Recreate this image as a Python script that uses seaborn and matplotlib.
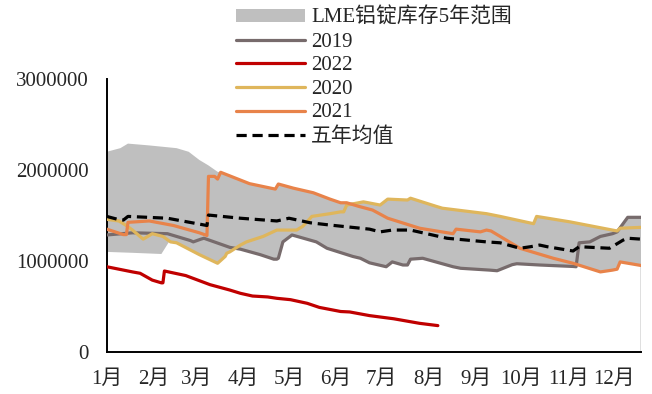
import numpy as np
import pandas as pd
import matplotlib
matplotlib.use("Agg")
import matplotlib.pyplot as plt
import seaborn as sns
from matplotlib.patches import Patch
from matplotlib.lines import Line2D

# ---------------- data (day of year, tonnes) ----------------
month_labels = ["1月", "2月", "3月", "4月", "5月", "6月", "7月", "8月", "9月", "10月", "11月", "12月"]
month_start_days = [0, 31, 59, 90, 120, 151, 181, 212, 243, 273, 304, 334]
y_ticks = [0, 1000000, 2000000, 3000000]

days_2019 = [0, 17, 40, 55, 57, 62, 64, 81, 88, 101, 110, 112, 113, 116, 122, 138, 145,
             162, 167, 173, 184, 188, 195, 198, 200, 208, 228, 233, 252, 257, 267, 270,
             285, 307, 309, 311, 318, 325, 333, 336, 343, 352]
vals_2019 = [1286000, 1310000, 1300000, 1225000, 1210000, 1240000, 1250000, 1150000, 1130000,
             1070000, 1020000, 1020000, 1030000, 1210000, 1286000, 1210000, 1140000,
             1050000, 1030000, 980000, 937000, 990000, 956000, 956000, 1020000, 1030000,
             937000, 920000, 900000, 893000, 960000, 970000,
             956000, 940000, 937000, 1200000, 1210000, 1270000, 1300000, 1320000, 1480000, 1480000]

days_2022 = [0, 17, 22, 30, 36, 37, 38, 52, 68, 81, 88, 96, 106, 112, 121, 132, 140, 154,
             160, 173, 189, 206, 218]
vals_2022 = [937000, 880000, 865000, 790000, 760000, 760000, 890000, 840000, 740000, 681000,
             645000, 615000, 605000, 590000, 575000, 535000, 490000, 445000,
             440000, 400000, 365000, 315000, 290000]

days_2020 = [0, 8, 12, 17, 24, 30, 37, 42, 46, 61, 73, 78, 79, 81, 88, 92, 103, 112, 125,
             127, 129, 134, 135, 147, 154, 156, 158, 169, 180, 185, 198, 200, 217, 221,
             250, 259, 281, 283, 305, 336, 338, 352]
vals_2020 = [1458000, 1440000, 1400000, 1340000, 1240000, 1300000, 1270000, 1210000, 1200000,
             1070000, 975000, 1050000, 1085000, 1100000, 1175000, 1210000, 1270000, 1340000,
             1340000, 1360000, 1380000, 1470000, 1490000, 1520000, 1540000, 1540000, 1615000,
             1650000, 1615000, 1680000, 1670000, 1690000, 1600000, 1580000,
             1520000, 1490000, 1410000, 1490000, 1430000, 1330000, 1360000, 1370000]

days_2021 = [0, 11, 13, 14, 28, 44, 61, 66, 67, 71, 73, 75, 94, 111, 113, 123, 136, 147,
             154, 158, 166, 175, 185, 206, 228, 230, 246, 250, 253, 272, 294, 307, 325,
             333, 336, 338, 352]
vals_2021 = [1350000, 1290000, 1290000, 1425000, 1440000, 1390000, 1310000, 1280000, 1930000,
             1930000, 1900000, 1975000, 1850000, 1790000, 1846000, 1800000, 1750000, 1680000,
             1640000, 1640000, 1600000, 1560000, 1470000, 1360000, 1300000, 1350000,
             1320000, 1340000, 1330000, 1140000, 1030000, 975000, 880000,
             900000, 910000, 990000, 950000]

days_avg = [0, 9, 11, 14, 40, 66, 67, 88, 112, 120, 134, 147, 173, 180, 188, 200, 224,
            250, 259, 272, 279, 285, 290, 307, 311, 331, 340, 343, 352]
vals_avg = [1490000, 1450000, 1450000, 1490000, 1470000, 1390000, 1505000, 1470000, 1440000,
            1470000, 1420000, 1395000, 1350000, 1320000, 1340000, 1340000, 1250000,
            1210000, 1200000, 1140000, 1157000, 1175000, 1157000, 1110000, 1157000,
            1140000, 1230000, 1250000, 1240000]

band_high_days = [0, 9, 14, 28, 46, 54, 61, 67, 73, 75, 94, 111, 113, 123, 136, 147, 154,
                  158, 169, 180, 185, 198, 200, 217, 221, 250, 259, 281, 283, 305, 333,
                  336, 343, 352]
band_high = [2200000, 2240000, 2290000, 2270000, 2240000, 2200000, 2110000, 2050000, 1980000,
             1975000, 1850000, 1790000, 1846000, 1800000, 1750000, 1680000, 1640000,
             1640000, 1650000, 1615000, 1680000, 1670000, 1690000, 1600000, 1580000,
             1520000, 1490000, 1410000, 1490000, 1430000, 1340000,
             1330000, 1480000, 1480000]

band_low_days = [0, 17, 36, 38, 41, 46, 61, 73, 78, 79, 81, 84, 88, 101, 110, 112, 113, 116,
                 122, 138, 145, 162, 167, 173, 184, 188, 195, 198, 200, 208, 228, 233, 252,
                 257, 267, 270, 285, 307, 309, 325, 333, 336, 338, 352]
band_low = [1100000, 1090000, 1077000, 1130000, 1210000, 1200000, 1070000, 975000, 1050000,
            1085000, 1100000, 1140000, 1130000, 1070000, 1020000, 1020000, 1030000, 1210000,
            1286000, 1210000, 1140000, 1050000, 1030000, 980000, 937000, 990000, 956000,
            956000, 1020000, 1030000, 937000, 920000, 900000,
            893000, 960000, 970000, 956000, 940000, 965000, 880000, 900000, 910000, 990000, 950000]

# ---------------- styling ----------------
sns.set_theme(style="white")
plt.rcParams["font.family"] = ["Liberation Serif", "Noto Sans CJK SC"]
plt.rcParams["axes.unicode_minus"] = False
FS = 15

c_band = "#BFBFBF"
c_2019 = "#776B6C"
c_2022 = "#C00000"
c_2020 = "#DFB65C"
c_2021 = "#E8834A"
c_avg = "#000000"
LW = 2.3
DASH = (0, (3.2, 1.8))

fig = plt.figure(figsize=(6.52, 3.94), dpi=100)
ax = fig.add_axes([106.7 / 652, 1 - 352 / 394, (641.4 - 106.7) / 652, (352 - 79) / 394])

# 5-year range band: polygon from its upper and lower edges
poly_x = list(band_high_days) + list(band_low_days[::-1])
poly_y = list(band_high) + list(band_low[::-1])
ax.fill(poly_x, poly_y, color=c_band, lw=0, zorder=1)
ax.vlines(band_low_days[-1], 0, band_low[-1], color="#D9D9D9", lw=1.2, zorder=1)

series = [
    ("2019", days_2019, vals_2019, c_2019),
    ("2022", days_2022, vals_2022, c_2022),
    ("2020", days_2020, vals_2020, c_2020),
    ("2021", days_2021, vals_2021, c_2021),
]
for name, d, v, c in series:
    sns.lineplot(x=d, y=v, ax=ax, color=c, lw=LW, estimator=None, sort=False,
                 legend=False, zorder=3)
sns.lineplot(x=days_avg, y=vals_avg, ax=ax, color=c_avg, lw=LW, estimator=None, sort=False,
             legend=False, zorder=4, linestyle=DASH)

ax.set_xlim(0, 352)
ax.set_ylim(0, 3000000)
ax.set_xticks(month_start_days)
ax.set_xticklabels(month_labels, fontsize=FS)
ax.set_yticks(y_ticks)
ax.set_yticklabels([str(v) for v in y_ticks], fontsize=FS)
ax.tick_params(axis="y", length=0, pad=13)
ax.tick_params(axis="x", length=4, width=1.2, direction="out", pad=9, color="black")
ax.set_xlabel("")
ax.set_ylabel("")
for s in ["top", "right"]:
    ax.spines[s].set_visible(False)
for s in ["left", "bottom"]:
    ax.spines[s].set_color("black")
    ax.spines[s].set_linewidth(1.4)
ax.grid(False)
ax.set_facecolor("white")

handles = [
    Patch(facecolor=c_band, edgecolor="none"),
    Line2D([], [], color=c_2019, lw=LW),
    Line2D([], [], color=c_2022, lw=LW),
    Line2D([], [], color=c_2020, lw=LW),
    Line2D([], [], color=c_2021, lw=LW),
    Line2D([], [], color=c_avg, lw=LW, linestyle=DASH),
]
labels = ["LME铝锭库存5年范围", "2019", "2022", "2020", "2021", "五年均值"]
leg = fig.legend(handles, labels, loc="upper left", bbox_to_anchor=(236 / 652, 1 - 8 / 394),
                 frameon=False, fontsize=FS, handlelength=3.3, handletextpad=0.3,
                 labelspacing=0.22, borderpad=0, borderaxespad=0, handleheight=0.55)

fig.savefig("out.png", dpi=100)
